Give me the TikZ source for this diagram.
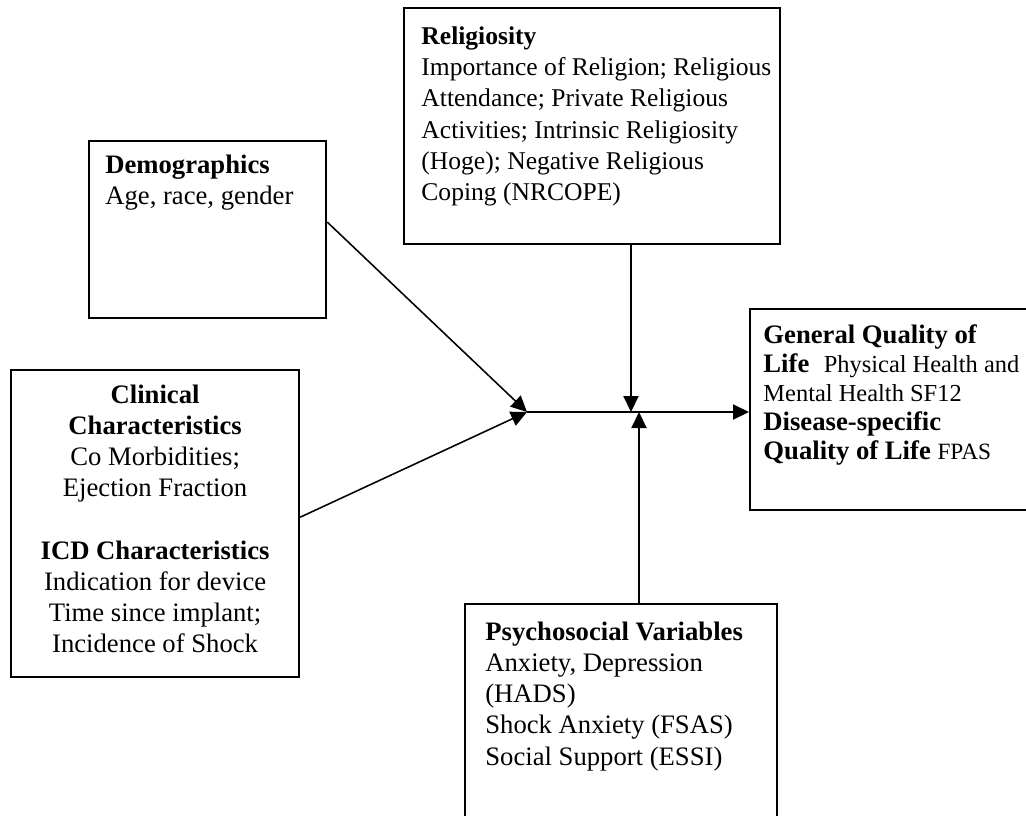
\documentclass[tikz,border=0pt]{standalone}
\usepackage{fontspec}
\setmainfont{Liberation Serif}
\usetikzlibrary{arrows.meta}

\tikzset{
  factor/.style={draw, line width=1pt, anchor=north west, inner sep=0pt},
  body/.style={anchor=north west, align=left, inner sep=0pt, font=\fontsize{12}{14}\selectfont},
  link/.style={line width=0.7pt, -{Triangle[length=7.2pt,width=6.8pt]}},
}

\begin{document}
\begin{tikzpicture}[x=0.45pt, y=-0.45pt]
  \useasboundingbox (0,0) rectangle (1026,815);
  \clip (0,0) rectangle (1026,815);

  % the factors
  \node[factor, minimum width=106.65pt, minimum height=79.65pt,
        label={[body, xshift=7.6pt, yshift=-6.5pt]north west:{\bfseries Demographics}\\Age, race, gender}]
        (demo) at (88,140) {};
  \node[factor, minimum width=169.2pt, minimum height=106.2pt,
        label={[body, font=\fontsize{11.5}{14}\selectfont, xshift=8.1pt, yshift=-8.8pt]north west:{\bfseries Religiosity}\\Importance of Religion; Religious\\Attendance; Private Religious\\Activities; Intrinsic Religiosity\\(Hoge); Negative Religious\\Coping (NRCOPE)}]
        (relig) at (403,7) {};
  \node[factor, minimum width=129.6pt, minimum height=138.15pt,
        label={[body, anchor=north, align=center, yshift=-7pt]north:{\bfseries Clinical}\\{\bfseries Characteristics}\\Co Morbidities;\\Ejection Fraction\\[14pt]{\bfseries ICD Characteristics}\\Indication for device\\Time since implant;\\Incidence of Shock}]
        (clin) at (10,369) {};
  \node[factor, minimum width=131pt, minimum height=90.45pt,
        label={[body, font=\fontsize{12}{13}\selectfont, xshift=6.3pt, yshift=-7.4pt]north west:{\bfseries General Quality of}\\{\bfseries Life}\hspace{6.5pt}{\fontsize{11}{13}\selectfont Physical Health and}\\{\fontsize{11}{13}\selectfont Mental Health SF12}\\{\bfseries Disease-specific}\\{\bfseries Quality of Life} {\fontsize{10.5}{13}\selectfont FPAS}}]
        (qol) at (749,308) {};
  \node[factor, minimum width=140.4pt, minimum height=115.65pt,
        label={[body, xshift=9.4pt, yshift=-8.4pt]north west:{\bfseries Psychosocial Variables}\\Anxiety, Depression\\(HADS)\\Shock Anxiety (FSAS)\\Social Support (ESSI)}]
        (psy) at (464,603) {};

  % where the paths meet
  \coordinate (hub) at (527,412);
  \coordinate (rtip) at (631,412);
  \coordinate (ptip) at (639,412);

  \draw[link] ([yshift=3.4pt]demo.east) -- (hub);
  \draw[link] ([yshift=2.9pt]clin.east) -- (hub);
  \draw[link] (relig.south -| rtip) -- (rtip);
  \draw[link] (psy.north -| ptip) -- (ptip);
  \draw[link] (hub) -- (qol.west |- hub);
\end{tikzpicture}
\end{document}
